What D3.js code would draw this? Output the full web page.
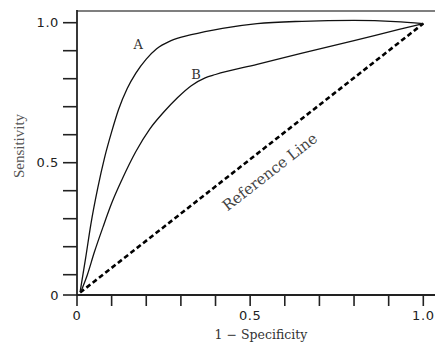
<!DOCTYPE html>
<html>
<head>
<meta charset="utf-8">
<script src="https://cdn.jsdelivr.net/npm/d3@7"></script>
<style>
  html, body { margin: 0; padding: 0; background: #fff; }
  svg { display: block; }
</style>
</head>
<body>
<div id="chart"></div>
<script>
// values (1 - specificity, sensitivity)
const curveAX = [0.009, 0.025, 0.04, 0.06, 0.08, 0.10, 0.12, 0.145, 0.17, 0.20, 0.23, 0.27, 0.33, 0.42, 0.52, 0.65, 0.80, 0.92, 1.0];
const curveAY = [0.015, 0.16, 0.28, 0.41, 0.52, 0.61, 0.69, 0.765, 0.82, 0.87, 0.907, 0.935, 0.957, 0.980, 0.997, 1.005, 1.008, 1.004, 0.997];
const curveBX = [0.012, 0.03, 0.05, 0.075, 0.10, 0.13, 0.17, 0.21, 0.25, 0.29, 0.33, 0.37, 0.40, 0.52, 0.65, 0.80, 0.93, 1.0];
const curveBY = [0.020, 0.10, 0.18, 0.27, 0.355, 0.44, 0.54, 0.62, 0.68, 0.732, 0.775, 0.803, 0.815, 0.851, 0.891, 0.936, 0.976, 0.997];
const refX = [0.009, 1.0];
const refY = [0.012, 0.997];
const curveLabels = ["A", "B"];
const labelX = [0.177, 0.344];
const labelY = [0.922, 0.815];
const xTicks = d3.range(0, 1.0001, 0.1);
const yTicks = d3.range(0, 1.0001, 0.1);
const xTickLabels = {0: "0", 0.5: "0.5", 1: "1.0"};
const yTickLabels = {0: "0", 0.5: "0.5", 1: "1.0"};

const width = 435, height = 343;
const x0 = 77, yBase = 295;

const x = d3.scaleLinear().domain([0, 1]).range([77, 423.3]);
// the scanned axis has a short first interval
const y = d3.scaleLinear().domain([0, 0.1, 1]).range([295, 274.7, 22.7]);

const svg = d3.select("#chart").append("svg")
  .attr("width", width)
  .attr("height", height);

const line = d3.line()
  .x(d => x(d[0]))
  .y(d => y(d[1]))
  .curve(d3.curveMonotoneX);

// top frame line
svg.append("line")
  .attr("x1", x0).attr("x2", width)
  .attr("y1", 11).attr("y2", 11)
  .attr("stroke", "#555").attr("stroke-width", 1.6);

// y axis
svg.append("line")
  .attr("x1", x0).attr("x2", x0)
  .attr("y1", 10).attr("y2", yBase + 1)
  .attr("stroke", "#222").attr("stroke-width", 1.8);

svg.selectAll(".ytick")
  .data(yTicks)
  .enter().append("line")
  .attr("x1", 63).attr("x2", x0)
  .attr("y1", d => y(d)).attr("y2", d => y(d))
  .attr("stroke", "#222").attr("stroke-width", 1.6);

svg.selectAll(".ylab")
  .data(yTicks.filter(d => yTickLabels[+d.toFixed(1)] !== undefined))
  .enter().append("text")
  .attr("x", 59)
  .attr("y", d => y(d))
  .attr("dy", "0.36em")
  .attr("text-anchor", "end")
  .attr("font-family", "DejaVu Sans")
  .attr("font-size", 13)
  .attr("letter-spacing", 0.6)
  .attr("fill", "#222")
  .text(d => yTickLabels[+d.toFixed(1)]);

// x axis
svg.append("line")
  .attr("x1", x0 - 1).attr("x2", width)
  .attr("y1", yBase).attr("y2", yBase)
  .attr("stroke", "#222").attr("stroke-width", 1.8);

svg.selectAll(".xtick")
  .data(xTicks)
  .enter().append("line")
  .attr("x1", d => x(d)).attr("x2", d => x(d))
  .attr("y1", yBase).attr("y2", yBase + 11)
  .attr("stroke", "#222").attr("stroke-width", 1.6);

svg.selectAll(".xlab")
  .data(xTicks.filter(d => xTickLabels[+d.toFixed(1)] !== undefined))
  .enter().append("text")
  .attr("x", d => x(d))
  .attr("y", 320)
  .attr("text-anchor", "middle")
  .attr("font-family", "DejaVu Sans")
  .attr("font-size", 13)
  .attr("letter-spacing", 0.6)
  .attr("fill", "#222")
  .text(d => xTickLabels[+d.toFixed(1)]);

// axis titles
svg.append("text")
  .attr("x", 261).attr("y", 339)
  .attr("text-anchor", "middle")
  .attr("font-family", "DejaVu Serif")
  .attr("font-size", 12.5)
  .attr("fill", "#333")
  .text("1 \u2212 Specificity");

svg.append("text")
  .attr("transform", "translate(24,146) rotate(-90)")
  .attr("text-anchor", "middle")
  .attr("font-family", "Liberation Serif")
  .attr("font-size", 15)
  .attr("fill", "#555")
  .text("Sensitivity");

// reference line
svg.append("path")
  .datum(d3.zip(refX, refY))
  .attr("d", d3.line().x(d => x(d[0])).y(d => y(d[1])))
  .attr("fill", "none")
  .attr("stroke", "#000")
  .attr("stroke-width", 2.6)
  .attr("stroke-dasharray", "5,3");

// ROC curves
[d3.zip(curveAX, curveAY), d3.zip(curveBX, curveBY)].forEach(pts => {
  svg.append("path")
    .datum(pts)
    .attr("d", line)
    .attr("fill", "none")
    .attr("stroke", "#111")
    .attr("stroke-width", 1.3);
});

svg.selectAll(".clab")
  .data(curveLabels)
  .enter().append("text")
  .attr("x", (d, i) => x(labelX[i]))
  .attr("y", (d, i) => y(labelY[i]))
  .attr("dy", "0.36em")
  .attr("text-anchor", "middle")
  .attr("font-family", "DejaVu Serif")
  .attr("font-size", 13)
  .attr("fill", "#333")
  .text(d => d);

// reference line label
svg.append("text")
  .attr("transform", "translate(273,176) rotate(-38)")
  .attr("text-anchor", "middle")
  .attr("font-family", "DejaVu Serif")
  .attr("font-size", 15)
  .attr("fill", "#444")
  .text("Reference Line");
</script>
</body>
</html>
